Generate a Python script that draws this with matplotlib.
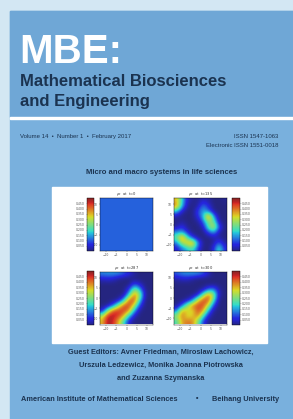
import numpy as np
import matplotlib
matplotlib.use("Agg")
import matplotlib.pyplot as plt
from matplotlib.patches import Rectangle
from matplotlib.colors import ListedColormap

W, H = 293, 419

# cover texts
journal_short = "MBE:"
journal_lines = ["Mathematical Biosciences", "and Engineering"]
issue_text = "Volume 14  \u2022  Number 1  \u2022  February 2017"
issn_lines = ["ISSN 1547-1063", "Electronic ISSN 1551-0018"]
issue_title = "Micro and macro systems in life sciences"
editor_lines = ["Guest Editors: Avner Friedman, Miroslaw Lachowicz,",
                "Urszula Ledzewicz, Monika Joanna Piotrowska",
                "and Zuzanna Szymanska"]
publishers = ["American Institute of Mathematical Sciences", "Beihang University"]

# heatmap panels (rows top -> bottom, values 0..1 on jet scale)
panel_titles = [r"$\rho_c$  at  t=0", r"$\rho_c$  at  t=135",
                r"$\rho_c$  at  t=287", r"$\rho_c$  at  t=300"]
field_t0 = [[0.21] * 10 for _ in range(10)]
field_t135 = [
    [0.70, 0.38, 0.08, 0.02, 0.02, 0.08, 0.04, 0.00, 0.00, 0.02],
    [0.80, 0.32, 0.04, 0.00, 0.04, 0.25, 0.12, 0.00, 0.00, 0.00],
    [0.32, 0.08, 0.00, 0.00, 0.16, 0.32, 0.22, 0.02, 0.00, 0.00],
    [0.04, 0.00, 0.00, 0.00, 0.12, 0.32, 0.88, 0.28, 0.00, 0.00],
    [0.00, 0.04, 0.00, 0.00, 0.02, 0.20, 0.50, 0.50, 0.04, 0.00],
    [0.04, 0.15, 0.02, 0.00, 0.00, 0.06, 0.45, 0.65, 0.20, 0.00],
    [0.28, 0.32, 0.12, 0.00, 0.00, 0.00, 0.15, 0.28, 0.04, 0.00],
    [0.45, 0.88, 0.42, 0.16, 0.02, 0.00, 0.00, 0.04, 0.04, 0.00],
    [0.22, 0.55, 0.72, 0.82, 0.28, 0.02, 0.00, 0.04, 0.22, 0.04],
    [0.08, 0.22, 0.32, 0.42, 0.15, 0.00, 0.00, 0.12, 0.45, 0.12],
]
field_t287 = [
    [0.26, 0.28, 0.28, 0.26, 0.20, 0.12, 0.04, 0.00, 0.00, 0.00],
    [0.08, 0.10, 0.08, 0.02, 0.00, 0.00, 0.00, 0.00, 0.00, 0.00],
    [0.00, 0.00, 0.00, 0.00, 0.00, 0.00, 0.18, 0.08, 0.00, 0.00],
    [0.00, 0.00, 0.00, 0.00, 0.00, 0.15, 0.55, 0.32, 0.02, 0.00],
    [0.00, 0.00, 0.00, 0.00, 0.02, 0.38, 0.82, 0.55, 0.04, 0.00],
    [0.00, 0.00, 0.00, 0.04, 0.32, 0.84, 0.86, 0.38, 0.00, 0.00],
    [0.00, 0.02, 0.20, 0.55, 0.86, 0.88, 0.60, 0.15, 0.00, 0.00],
    [0.08, 0.55, 0.86, 0.90, 0.88, 0.75, 0.28, 0.02, 0.00, 0.00],
    [0.60, 0.95, 0.95, 0.88, 0.70, 0.32, 0.06, 0.00, 0.00, 0.00],
    [0.70, 0.98, 0.90, 0.70, 0.38, 0.08, 0.00, 0.00, 0.00, 0.00],
]
field_t300 = [
    [0.20, 0.26, 0.28, 0.28, 0.26, 0.20, 0.08, 0.00, 0.00, 0.00],
    [0.04, 0.08, 0.08, 0.04, 0.00, 0.00, 0.00, 0.00, 0.00, 0.00],
    [0.00, 0.00, 0.00, 0.00, 0.00, 0.00, 0.00, 0.00, 0.00, 0.00],
    [0.00, 0.00, 0.00, 0.00, 0.00, 0.04, 0.22, 0.28, 0.04, 0.00],
    [0.00, 0.00, 0.00, 0.00, 0.08, 0.48, 0.82, 0.55, 0.06, 0.00],
    [0.00, 0.00, 0.04, 0.22, 0.65, 0.86, 0.86, 0.40, 0.00, 0.00],
    [0.00, 0.18, 0.55, 0.80, 0.86, 0.86, 0.60, 0.15, 0.00, 0.00],
    [0.22, 0.75, 0.66, 0.62, 0.86, 0.75, 0.28, 0.02, 0.00, 0.00],
    [0.55, 0.80, 0.62, 0.66, 0.80, 0.40, 0.08, 0.00, 0.00, 0.00],
    [0.40, 0.72, 0.80, 0.78, 0.50, 0.15, 0.00, 0.00, 0.00, 0.00],
]
fields = [field_t0, field_t135, field_t287, field_t300]
cbar_ticks = [0.1, 0.2, 0.3, 0.4, 0.5, 0.6, 0.7, 0.8, 0.9]
axis_ticks = [-10, -5, 0, 5, 10]

navy = "#1b3350"
header_blue = "#6fa7d6"
body_blue = "#79b0dd"

# slightly washed-out jet, like the printed cover
jet = plt.get_cmap("jet")(np.linspace(0, 1, 256))
soft = jet.copy()
soft[:, :3] = jet[:, :3] * 0.72 + 0.28 * 0.52
soft_jet = ListedColormap(soft)

fig = plt.figure(figsize=(W / 100, H / 100), dpi=100)
fig.patch.set_facecolor("#d3e7f3")

bg = fig.add_axes([0, 0, 1, 1])
bg.set_xlim(0, W)
bg.set_ylim(H, 0)
bg.axis("off")
bg.add_patch(Rectangle((10, 11), W - 10, H - 11, color=body_blue))
bg.add_patch(Rectangle((10, 11), W - 10, 106, color=header_blue))
bg.add_patch(Rectangle((10, 117), W - 10, 2.2, color="white"))
bg.add_patch(Rectangle((52, 187), 215, 156, color="white"))

bg.text(19, 52, journal_short, color="white", fontsize=29, fontweight="bold",
        family="Liberation Sans", va="center", ha="left")
for i, line in enumerate(journal_lines):
    bg.text(20, 81 + i * 20, line, color=navy, fontsize=12, fontweight="bold",
            family="Liberation Sans", va="center", ha="left")
bg.text(20, 136, issue_text, color=navy, fontsize=4.3, va="center", ha="left",
        family="Liberation Sans")
for i, line in enumerate(issn_lines):
    bg.text(278, 136 + i * 9, line, color=navy, fontsize=4.3, va="center",
            ha="right", family="Liberation Sans")
bg.text(162, 172, issue_title, color=navy, fontsize=5.6, fontweight="bold",
        family="Liberation Sans", va="center", ha="center")
for i, line in enumerate(editor_lines):
    bg.text(161, 352 + i * 13, line, color=navy, fontsize=5.3, fontweight="bold",
            family="Liberation Sans", va="center", ha="center")
bg.text(21, 399, publishers[0], color=navy, fontsize=5.3, fontweight="bold",
        family="Liberation Sans", va="center", ha="left")
bg.text(197, 399, "\u2022", color=navy, fontsize=5.3, va="center", ha="center")
bg.text(279, 399, publishers[1], color=navy, fontsize=5.3, fontweight="bold",
        family="Liberation Sans", va="center", ha="right")


def px_axes(x0, y0, x1, y1):
    return fig.add_axes([x0 / W, 1 - y1 / H, (x1 - x0) / W, (y1 - y0) / H])


# image boxes (x0, y0, x1, y1) and colorbar boxes
img_boxes = [(100, 198, 153, 251), (174, 198, 227, 251),
             (100, 271, 153, 325), (174, 271, 227, 325)]
cbar_boxes = [(87, 198, 94, 251), (232, 198, 240, 251),
              (87, 271, 94, 325), (232, 271, 240, 325)]
cbar_side = ["left", "right", "left", "right"]

for k in range(4):
    ax = px_axes(*img_boxes[k])
    im = ax.imshow(np.array(fields[k]), cmap=soft_jet, vmin=0, vmax=1,
                   interpolation="bicubic", extent=[-13, 13, -13, 13])
    ax.set_xticks(axis_ticks)
    ax.set_yticks(axis_ticks)
    ax.tick_params(labelsize=2.2, length=0.8, width=0.3, pad=0.8,
                   colors="#555555")
    for s in ax.spines.values():
        s.set_linewidth(0.3)
    ax.set_title(panel_titles[k], fontsize=2.6, pad=1.5, color="#333333")

    cax = px_axes(*cbar_boxes[k])
    cb = fig.colorbar(im, cax=cax, ticks=cbar_ticks)
    cb.ax.yaxis.set_ticks_position(cbar_side[k])
    cb.ax.yaxis.set_label_position(cbar_side[k])
    cb.ax.set_yticklabels([f"{t * 0.5:.3f}" for t in cbar_ticks])
    cb.ax.tick_params(labelsize=2.2, length=0.6, width=0.3, pad=0.8,
                      colors="#555555")
    cb.outline.set_linewidth(0.3)

fig.savefig("out.png", dpi=100)
